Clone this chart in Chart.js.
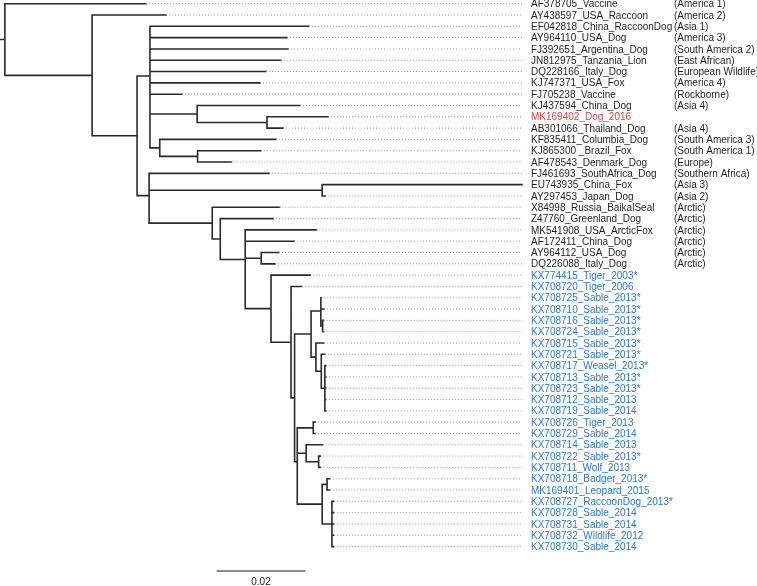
<!DOCTYPE html>
<html><head><meta charset="utf-8">
<script src="https://cdn.jsdelivr.net/npm/chart.js@4.4.1/dist/chart.umd.min.js"></script>
<style>html,body{margin:0;padding:0;background:#fff}canvas{display:block}</style>
</head><body>
<canvas id="c" width="757" height="586"></canvas>
<script>
// ---------- DATA ----------
const tipNames = [
  "AF378705_Vaccine","AY438597_USA_Raccoon","EF042818_China_RaccoonDog","AY964110_USA_Dog",
  "FJ392651_Argentina_Dog","JN812975_Tanzania_Lion","DQ228166_Italy_Dog","KJ747371_USA_Fox",
  "FJ705238_Vaccine","KJ437594_China_Dog","MK169402_Dog_2016","AB301066_Thailand_Dog",
  "KF835411_Columbia_Dog","KJ865300 _Brazil_Fox","AF478543_Denmark_Dog","FJ461693_SouthAfrica_Dog",
  "EU743935_China_Fox","AY297453_Japan_Dog","X84998_Russia_BaikalSeal","Z47760_Greenland_Dog",
  "MK541908_USA_ArcticFox","AF172411_China_Dog","AY964112_USA_Dog","DQ226088_Italy_Dog",
  "KX774415_Tiger_2003*","KX708720_Tiger_2006","KX708725_Sable_2013*","KX708710_Sable_2013*",
  "KX708716_Sable_2013*","KX708724_Sable_2013*","KX708715_Sable_2013*","KX708721_Sable_2013*",
  "KX708717_Weasel_2013*","KX708713_Sable_2013*","KX708723_Sable_2013*","KX708712_Sable_2013",
  "KX708719_Sable_2014","KX708726_Tiger_2013","KX708729_Sable_2014","KX708714_Sable_2013",
  "KX708722_Sable_2013*","KX708711_Wolf_2013","KX708718_Badger_2013*","MK169401_Leopard_2015",
  "KX708727_RaccoonDog_2013*","KX708728_Sable_2014","KX708731_Sable_2014","KX708732_Wildlife_2012",
  "KX708730_Sable_2014"
];
const tipGroups = [
  "(America 1)","(America 2)","(Asia 1)","(America 3)","(South America 2)","(East African)",
  "(European Wildlife)","(America 4)","(Rockborne)","(Asia 4)","","(Asia 4)","(South America 3)",
  "(South America 1)","(Europe)","(Southern Africa)","(Asia 3)","(Asia 2)","(Arctic)","(Arctic)",
  "(Arctic)","(Arctic)","(Arctic)","(Arctic)",
  "","","","","","","","","","","","","","","","","","","","","","","","",""
];
// tip category: 0 = reference, 1 = this study (dog 2016), 2 = wildlife lineage
const tipCategory = [
  0,0,0,0,0,0,0,0,0,0,1,0,0,0,0,0,0,0,0,0,0,0,0,0,
  2,2,2,2,2,2,2,2,2,2,2,2,2,2,2,2,2,2,2,2,2,2,2,2,2
];
// tree topology, tips referenced by index in tipNames, branch lengths in substitutions/site
const newick =
 "(0:0.0317,(1:0.0166,(" +
   "(2:0.0357,3:0.0308,4:0.0310,5:0.0294,6:0.0261,7:0.0247,8:0.0072," +
     "(9:0.0231,(10:0.0137,11:0.0036):0.0157):0.0106," +
     "(12:0.0261,(13:0.0142,14:0.0076):0.0085):0.0022):0.0029," +
   "(15:0.0270,(16:0.0449,17:0.0007):0.0389," +
     "(18:0.0151,(19:0.0119," +
       "(20:0.0160,21:0.0110,(22:0.0040,23:0.0031):0.0036," +
         "(24:0.0088,(25:0.0024," +
           "(((26:0.0001,27:0.0007,(28:0.0002,29:0.0002):0.0004):0.0022," +
             "(30:0.0018,(31:0.0008,(32:0.0002,33:0.0002,34:0.0002,35:0.0002,36:0.0002):0.0008):0.0012):0.0011):0.0037," +
            "((37:0.0004,38:0.0004):0.0036,(39:0.0037,(40:0.0004,41:0.0004):0.0028):0.0020," +
             "((42:0.0006,43:0.0006):0.0011,(44:0.0004,45:0.0004,46:0.0004,47:0.0004,48:0.0004):0.0022):0.0056):0.0006" +
           "):0.0008" +
         "):0.0045):0.0058" +
       "):0.0056" +
     "):0.0018):0.0142" +
   "):0.0027" +
 "):0.0101):0.0196):0.0011;";
const scaleBarLength = 0.02;
const scaleBarLabel = "0.02";

// ---------- LAYOUT CONSTANTS (not data) ----------
const PX_PER_UNIT = 4450;
const W = 757, H = 586;
const ROW_PX = 11.31, FIRST_ROW_PX = 3.7;
const ALIGN_X = 522 / PX_PER_UNIT;   // dotted guides end
const NAME_X = 531 / PX_PER_UNIT;
const GROUP_X = 674 / PX_PER_UNIT;
const BAR_X0 = 216.5 / PX_PER_UNIT;
const BAR_Y = (571 - FIRST_ROW_PX) / ROW_PX;
const catColors = ["#1f1f1f", "#f23b3b", "#2479e2"];

// ---------- NEWICK PARSER ----------
function parseNewick(s) {
  let i = 0;
  function node() {
    const n = { children: [], len: 0 };
    if (s[i] === "(") {
      i++;
      n.children.push(node());
      while (s[i] === ",") { i++; n.children.push(node()); }
      i++; // ')'
    } else {
      let t = "";
      while (!",:);".includes(s[i])) t += s[i++];
      n.tip = parseInt(t, 10);
    }
    if (s[i] === ":") {
      i++;
      let t = "";
      while (!",);".includes(s[i])) t += s[i++];
      n.len = parseFloat(t);
    }
    return n;
  }
  return node();
}
const root = parseNewick(newick);

function layout(n, x0) {
  n.x = x0 + n.len;
  if (n.children.length === 0) { n.y = n.tip; return; }
  n.children.forEach(c => layout(c, n.x));
  n.y = n.children.reduce((a, c) => a + c.y, 0) / n.children.length;
}
layout(root, 0);

const treeSeg = [], guideSeg = [];
function push(arr, x1, y1, x2, y2) {
  arr.push({ x: x1, y: y1 }, { x: x2, y: y2 }, { x: x2, y: null });
}
push(treeSeg, 0, root.y, root.x, root.y);
const tips = [];
(function walk(n) {
  if (n.children.length === 0) { tips.push(n); return; }
  const ys = n.children.map(c => c.y);
  push(treeSeg, n.x, Math.min(...ys), n.x, Math.max(...ys));
  n.children.forEach(c => { push(treeSeg, n.x, c.y, c.x, c.y); walk(c); });
})(root);
tips.forEach(t => { if (t.x < ALIGN_X - 0.0003) push(guideSeg, t.x, t.y, ALIGN_X, t.y); });
const barSeg = [{ x: BAR_X0, y: BAR_Y }, { x: BAR_X0 + scaleBarLength, y: BAR_Y }];

const labelPlugin = {
  id: "tipLabels",
  afterDatasetsDraw(chart) {
    const { ctx, scales: { x, y } } = chart;
    ctx.save();
    ctx.font = '10px "Liberation Sans", Arial, sans-serif';
    ctx.textBaseline = "alphabetic";
    tipNames.forEach((name, i) => {
      const py = y.getPixelForValue(i) + 3.6;
      ctx.fillStyle = catColors[tipCategory[i]];
      ctx.textAlign = "left";
      ctx.fillText(name, x.getPixelForValue(NAME_X), py);
      if (tipGroups[i]) ctx.fillText(tipGroups[i], x.getPixelForValue(GROUP_X), py);
    });
    ctx.fillStyle = "#222";
    ctx.textAlign = "center";
    ctx.fillText(scaleBarLabel, x.getPixelForValue(BAR_X0 + scaleBarLength / 2), y.getPixelForValue(BAR_Y) + 14);
    ctx.restore();
  }
};

new Chart(document.getElementById("c"), {
  type: "line",
  data: {
    datasets: [
      { data: guideSeg, borderColor: "#9a9a9a", borderWidth: 1, borderDash: [1, 2], pointRadius: 0, spanGaps: false, clip: false },
      { data: treeSeg, borderColor: "#2a2a2a", borderWidth: 1.6, borderCapStyle: "square", pointRadius: 0, spanGaps: false, clip: false },
      { data: barSeg, borderColor: "#666", borderWidth: 1.6, pointRadius: 0, clip: false }
    ]
  },
  options: {
    responsive: false,
    animation: false,
    devicePixelRatio: 1,
    layout: { padding: 0 },
    plugins: { legend: { display: false }, tooltip: { enabled: false } },
    events: [],
    scales: {
      x: { type: "linear", display: false, min: 0, max: W / PX_PER_UNIT },
      y: { type: "linear", display: false, reverse: true,
           min: -FIRST_ROW_PX / ROW_PX, max: (H - FIRST_ROW_PX) / ROW_PX }
    }
  },
  plugins: [labelPlugin]
});
</script>
</body></html>
